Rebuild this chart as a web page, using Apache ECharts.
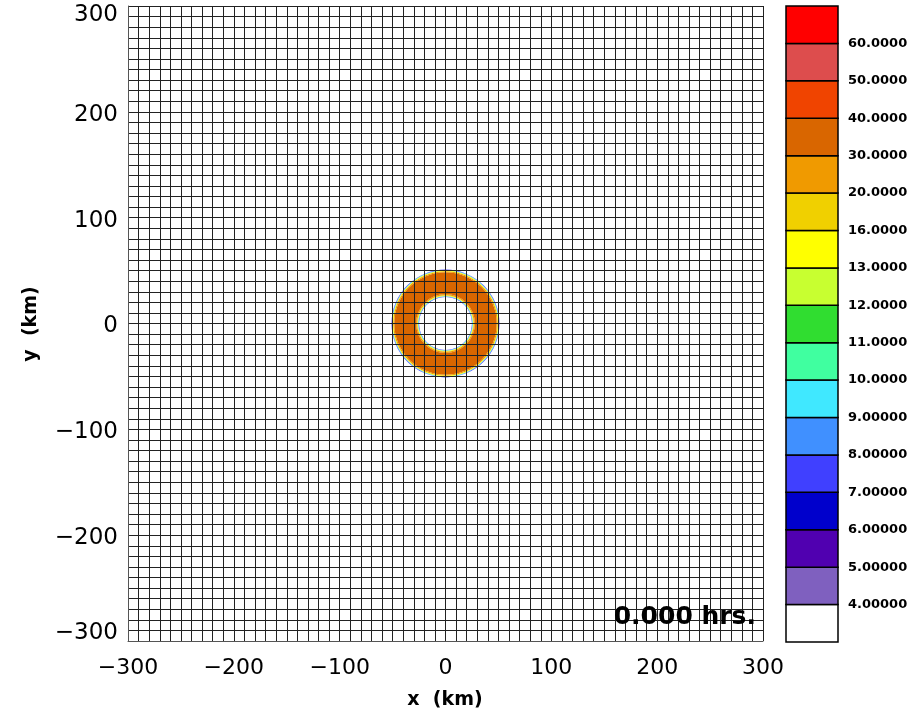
<!DOCTYPE html>
<html>
<head>
<meta charset="utf-8">
<script src="https://cdn.jsdelivr.net/npm/echarts@6/dist/echarts.min.js"></script>
<style>
  html, body { margin: 0; padding: 0; background: #ffffff; }
  #chart { width: 912px; height: 714px; }
</style>
</head>
<body>
<div id="chart"></div>
<script>
// Contour levels shown on the colour bar (band boundaries, bottom to top)
var levelLabels = ['4.00000', '5.00000', '6.00000', '7.00000', '8.00000', '9.00000',
  '10.0000', '11.0000', '12.0000', '13.0000', '16.0000', '20.0000', '30.0000',
  '40.0000', '50.0000', '60.0000'];

// Fill colour of each band, from below the lowest level to above the highest
var bandColors = ['#ffffff', '#7f60bf', '#5000b0', '#0000cc', '#4040ff', '#4090ff',
  '#40e8ff', '#40ffa0', '#30dd30', '#c8ff30', '#ffff00', '#f0d000', '#f09a00',
  '#d96600', '#f04400', '#dd4d4d', '#ff0000'];

// Annular field around the origin: inner radius (km), outer radius (km), band index
var ringInner = [25.0, 25.5, 26.1, 26.8, 27.8, 48.4, 49.4, 50.1, 50.6];
var ringOuter = [25.5, 26.1, 26.8, 27.8, 48.4, 49.4, 50.1, 50.6, 51.0];
var ringBand  = [4,    6,    10,   12,   13,   12,   10,   6,    4];

// Axis ticks (km)
var xTicks = [-300, -200, -100, 0, 100, 200, 300];
var yTicks = [-300, -200, -100, 0, 100, 200, 300];

var timeLabel = '0.000 hrs.';

var FONT = 'DejaVu Sans';

function fmtKm(v) {
  return v < 0 ? '\u2212' + Math.abs(v) : String(v);
}

// End labels of the y axis sit inside the plot's height
function fmtKmY(v) {
  var s = fmtKm(v);
  if (v === yTicks[yTicks.length - 1]) return '{top|' + s + '}';
  if (v === yTicks[0]) return '{bot|' + s + '}';
  return '{mid|' + s + '}';
}

var ringData = ringInner.map(function (r0, i) {
  return [r0, ringOuter[i], ringBand[i]];
});

var barData = bandColors.map(function (c, i) { return [i, i]; });

var chart = echarts.init(document.getElementById('chart'), null, { renderer: 'canvas' });

var option = {
  animation: false,
  backgroundColor: '#ffffff',
  grid: [
    { left: 128, top: 6, width: 635, height: 635, containLabel: false, outerBoundsMode: 'none' },
    { left: 786, top: 6, width: 52, height: 636, containLabel: false, outerBoundsMode: 'none' }
  ],
  xAxis: [
    {
      gridIndex: 0, type: 'value',
      min: xTicks[0], max: xTicks[xTicks.length - 1], interval: 100,
      z: 5,
      axisLine: { show: true, onZero: false, lineStyle: { color: '#555', width: 1 } },
      axisTick: { show: false },
      axisLabel: {
        margin: 16, color: '#000', fontFamily: FONT, fontSize: 22,
        formatter: fmtKm
      },
      splitLine: { show: true, lineStyle: { color: '#222', width: 1 } },
      minorTick: { show: false, splitNumber: 10 },
      minorSplitLine: { show: true, lineStyle: { color: '#222', width: 1 } }
    },
    {
      gridIndex: 1, type: 'value', min: 0, max: 1, show: false
    }
  ],
  yAxis: [
    {
      gridIndex: 0, type: 'value',
      min: yTicks[0], max: yTicks[yTicks.length - 1], interval: 100,
      z: 5,
      axisLine: { show: true, onZero: false, lineStyle: { color: '#555', width: 1 } },
      axisTick: { show: false },
      axisLabel: {
        margin: 10, color: '#000', fontFamily: FONT, fontSize: 23,
        formatter: fmtKmY,
        rich: {
          top: { fontFamily: FONT, fontSize: 23, color: '#000', padding: [18, 0, 0, 0] },
          mid: { fontFamily: FONT, fontSize: 23, color: '#000', padding: [6, 0, 0, 0] },
          bot: { fontFamily: FONT, fontSize: 23, color: '#000', padding: [0, 0, 16, 0] }
        }
      },
      splitLine: { show: true, lineStyle: { color: '#222', width: 1 } },
      minorTick: { show: false, splitNumber: 10 },
      minorSplitLine: { show: true, lineStyle: { color: '#222', width: 1 } }
    },
    {
      gridIndex: 1, type: 'value', min: 0, max: bandColors.length, interval: 1,
      position: 'right',
      axisLine: { show: false },
      axisTick: { show: false },
      splitLine: { show: false },
      axisLabel: {
        margin: 10, color: '#000', fontFamily: FONT, fontSize: 13, fontWeight: 'bold',
        formatter: function (v) {
          if (v < 1 || v > levelLabels.length) return '';
          return levelLabels[v - 1];
        }
      }
    }
  ],
  series: [
    {
      type: 'custom',
      xAxisIndex: 0, yAxisIndex: 0,
      z: 1,
      silent: true,
      data: ringData,
      renderItem: function (params, api) {
        var c = api.coord([0, 0]);
        var r0 = api.size([api.value(0), 0])[0];
        var r1 = api.size([api.value(1), 0])[0];
        return {
          type: 'ring',
          shape: { cx: c[0], cy: c[1], r0: r0, r: r1 },
          style: { fill: bandColors[api.value(2)] }
        };
      }
    },
    {
      type: 'custom',
      xAxisIndex: 1, yAxisIndex: 1,
      silent: true,
      data: barData,
      renderItem: function (params, api) {
        var i = api.value(0);
        var p0 = api.coord([0, i + 1]);
        var p1 = api.coord([1, i]);
        return {
          type: 'rect',
          shape: { x: p0[0], y: p0[1], width: p1[0] - p0[0], height: p1[1] - p0[1] },
          style: { fill: bandColors[api.value(1)], stroke: '#000', lineWidth: 1.5 }
        };
      }
    }
  ],
  graphic: [
    {
      type: 'text', z: 10,
      position: [445, 700],
      style: {
        text: 'x  (km)', fill: '#000',
        font: 'bold 19px "DejaVu Sans"', textAlign: 'center', textVerticalAlign: 'middle'
      }
    },
    {
      type: 'text', z: 10,
      rotation: Math.PI / 2,
      position: [31, 324],
      style: {
        text: 'y  (km)', fill: '#000',
        font: 'bold 19px "DejaVu Sans"', textAlign: 'center', textVerticalAlign: 'middle'
      }
    },
    {
      type: 'text', z: 10,
      position: [756, 617],
      style: {
        text: timeLabel, fill: '#000',
        font: 'bold 25px "DejaVu Sans"', textAlign: 'right', textVerticalAlign: 'middle'
      }
    }
  ]
};

chart.setOption(option);
</script>
</body>
</html>
